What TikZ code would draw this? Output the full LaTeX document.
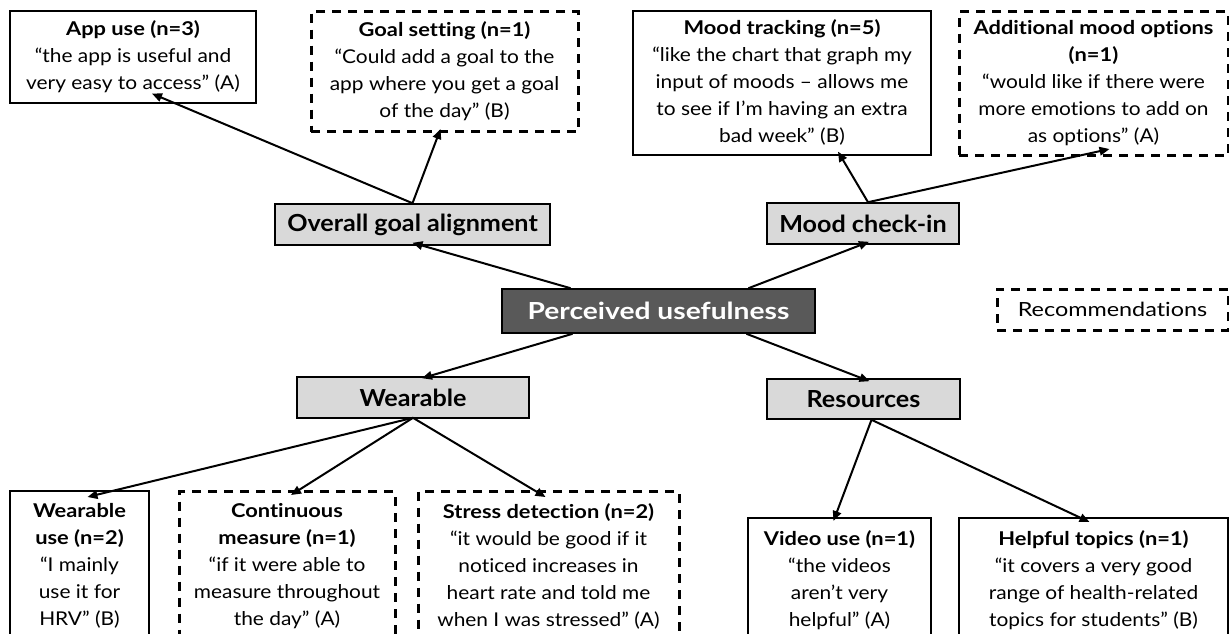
\documentclass[tikz,border=0pt]{standalone}
\usepackage{fontspec}
\setmainfont{Lato}
\newfontfamily\quotefont[Ligatures=NoCommon, UprightFeatures={FakeStretch=1.1}, BoldFeatures={FakeStretch=1.15}]{Lato}
\newfontfamily\themefont[Ligatures=NoCommon, BoldFeatures={FakeStretch=1.07}]{Lato}
\newfontfamily\hubfont[Ligatures=NoCommon, BoldFeatures={FakeStretch=1.2}]{Lato}
\newfontfamily\legendfont[Ligatures=NoCommon, UprightFeatures={FakeStretch=1.2}]{Lato}
\usetikzlibrary{arrows.meta}
\definecolor{hubfill}{HTML}{595959}
\definecolor{themefill}{HTML}{D9D9D9}
\tikzset{
  base/.style={draw=black, line width=1.6pt, align=center, inner sep=0pt,
    font=\quotefont\fontsize{19}{27}\selectfont},
  quote/.style={base, anchor=north, inner ysep=7pt},
  idea/.style={quote, dash pattern=on 9pt off 7pt, line width=3pt},
  theme/.style={base, fill=themefill, font=\themefont\fontsize{23.5}{27}\selectfont\bfseries},
  hub/.style={base, fill=hubfill, text=white, font=\hubfont\fontsize{23.5}{27}\selectfont\bfseries},
  link/.style={line width=2pt, -{Triangle[length=10pt,width=8.5pt]}}
}
\begin{document}
\begin{tikzpicture}[x=1pt, y=-1pt]
\path[use as bounding box] (0,0) rectangle (1229,633);
\clip (0,0) rectangle (1229,633);

% central node and the four themes
\node[hub, minimum width=313pt, minimum height=44pt] (hub) at (658.5,311) {Perceived usefulness};
\node[theme, minimum width=275pt, minimum height=41pt] (goal) at (412.5,224.5) {Overall goal alignment};
\node[theme, minimum width=192pt, minimum height=41pt] (mood) at (863,223.5) {Mood check-in};
\node[theme, minimum width=232pt, minimum height=41pt] (wear) at (413,397.5) {Wearable};
\node[theme, minimum width=193pt, minimum height=40pt] (res) at (863.5,399) {Resources};

% legend
\node[idea, anchor=center, minimum width=231pt, minimum height=41pt,
  font=\legendfont\fontsize{19.5}{27}\selectfont] (legend) at (1112.5,309.5) {Recommendations};

% top row of quotes
\node[quote, minimum width=246pt, minimum height=92pt] (app) at (133,10)
  {\textbf{App use (n=3)}\\“the app is useful and\\very easy to access” (A)};
\node[idea, minimum width=267pt, minimum height=120pt] (gset) at (444.5,10)
  {\textbf{Goal setting (n=1)}\\“Could add a goal to the\\app where you get a goal\\of the day” (B)};
\node[quote, minimum width=298pt, minimum height=144pt] (mtrack) at (782,10)
  {\textbf{Mood tracking (n=5)}\\“like the chart that graph my\\input of moods – allows me\\to see if I’m having an extra\\bad week” (B)};
\node[idea, minimum width=269pt, minimum height=144pt] (mopt) at (1093.5,10)
  {\textbf{Additional mood options}\\\textbf{(n=1)}\\“would like if there were\\more emotions to add on\\as options” (A)};

% bottom row of quotes
\node[quote, minimum width=139pt, minimum height=150pt] (wuse) at (79.5,490)
  {\textbf{Wearable}\\\textbf{use (n=2)}\\“I mainly\\use it for\\HRV” (B)};
\node[idea, minimum width=216pt, minimum height=150pt] (cont) at (287,490)
  {\textbf{Continuous}\\\textbf{measure (n=1)}\\“if it were able to\\measure throughout\\the day” (A)};
\node[idea, minimum width=261pt, minimum height=150pt] (stress) at (548.5,490)
  {\textbf{Stress detection (n=2)}\\“it would be good if it\\noticed increases in\\heart rate and told me\\when I was stressed” (A)};
\node[quote, minimum width=183pt, minimum height=125pt] (video) at (839.5,517)
  {\textbf{Video use (n=1)}\\“the videos\\aren’t very\\helpful” (A)};
\node[quote, minimum width=269pt, minimum height=125pt] (topics) at (1093.5,517)
  {\textbf{Helpful topics (n=1)}\\“it covers a very good\\range of health-related\\topics for students” (B)};

% connectors
\coordinate (hubNW) at ([xshift=-88pt]hub.north);
\coordinate (hubNE) at ([xshift=90pt]hub.north);
\coordinate (hubSW) at ([xshift=-86pt]hub.south);
\coordinate (hubSE) at ([xshift=88pt]hub.south);
\draw[link] (hubNW) -- ([shift={(0pt,3pt)}]goal.south);
\draw[link] (hubNE) -- ([shift={(6pt,3pt)}]mood.south);
\draw[link] (hubSW) -- ([shift={(9pt,-2pt)}]wear.north);
\draw[link] (hubSE) -- ([shift={(6pt,-3pt)}]res.north);

\draw[link] (goal.north) -- ([shift={(19pt,10pt)}]app.south);
\draw[link] (goal.north) -- ([shift={(-4pt,4pt)}]gset.south);
\draw[link] ([xshift=5pt]mood.north) -- ([shift={(56pt,4pt)}]mtrack.south);
\draw[link] ([xshift=5pt]mood.north) -- ([shift={(16pt,8pt)}]mopt.south);

\draw[link] ([yshift=1pt]wear.south) -- ([shift={(8pt,-7pt)}]wuse.north);
\draw[link] ([yshift=1pt]wear.south) -- ([shift={(4pt,-5pt)}]cont.north);
\draw[link] ([yshift=1pt]wear.south) -- ([shift={(-3pt,-7pt)}]stress.north);

\draw[link] ([xshift=8pt]res.south) -- ([shift={(-6pt,-4pt)}]video.north);
\draw[link] ([xshift=8pt]res.south) -- ([shift={(-4pt,-5pt)}]topics.north);
\end{tikzpicture}
\end{document}
